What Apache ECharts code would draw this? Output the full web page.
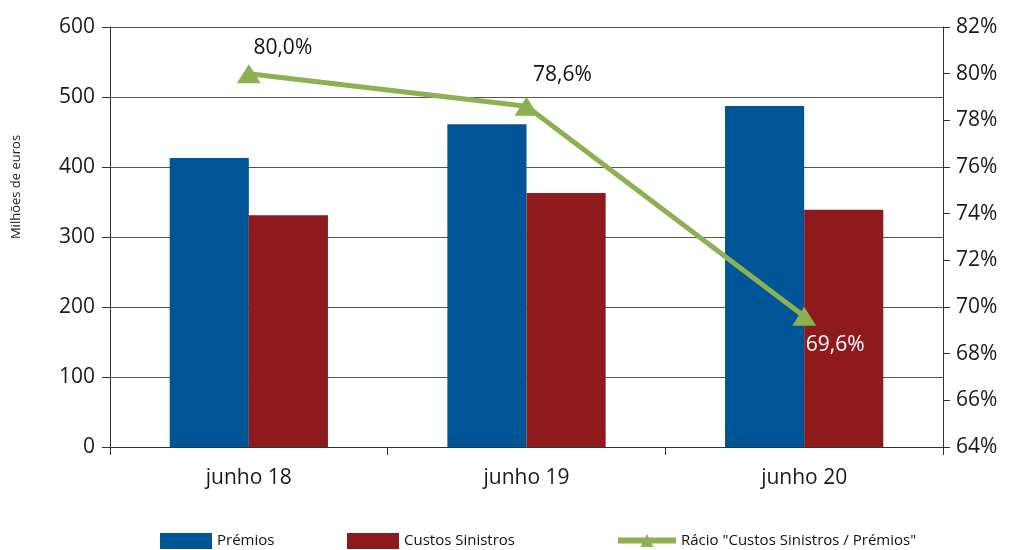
<!DOCTYPE html>
<html><head><meta charset="utf-8">
<script src="https://cdn.jsdelivr.net/npm/echarts@6/dist/echarts.min.js"></script>
<style>html,body{margin:0;padding:0;background:#fff}#c{width:1010px;height:550px}</style>
</head><body><div id="c"></div>
<script>
var categories = ['junho 18', 'junho 19', 'junho 20'];
var premios = [413, 461, 487];
var custos = [331, 363, 339];
var racio = [80.0, 78.6, 69.6];
var racioLabels = ['80,0%', '78,6%', '69,6%'];
var leftTicks = [0, 600, 100];
var rightTicks = [64, 82, 2];

var F = '"Open Sans", "Noto Sans", sans-serif';
var chart = echarts.init(document.getElementById('c'));
var labelOffsets = [[34, -26], [36, -31], [31, 29]];
var labelColors = ['#111', '#111', '#fff'];
chart.setOption({
  animation: false,
  textStyle: { fontFamily: F },
  grid: { left: 110, right: 67, top: 27, bottom: 103 },
  legend: [
    { data: [{ name: 'Prémios', icon: 'rect' }], left: 155, top: 528, itemWidth: 52, itemHeight: 16, itemGap: 6,
      textStyle: { fontSize: 15, color: '#111', fontFamily: F } },
    { data: [{ name: 'Custos Sinistros', icon: 'rect' }], left: 342, top: 528, itemWidth: 52, itemHeight: 16,
      textStyle: { fontSize: 15, color: '#111', fontFamily: F } },
    { data: ['Rácio "Custos Sinistros / Prémios"'], left: 610, top: 528, itemWidth: 58, itemHeight: 16, itemGap: 2,
      lineStyle: { width: 6 },
      textStyle: { fontSize: 15, color: '#111', fontFamily: F } }
  ],
  xAxis: {
    type: 'category', data: categories,
    axisLine: { lineStyle: { color: '#333', width: 1 } },
    axisTick: { show: true, alignWithLabel: false, length: 8, lineStyle: { color: '#333' } },
    axisLabel: { fontSize: 21, color: '#1a1a1a', margin: 21, fontFamily: F }
  },
  yAxis: [
    { type: 'value', min: leftTicks[0], max: leftTicks[1], interval: leftTicks[2],
      name: 'Milhões de euros', nameLocation: 'middle', nameGap: 87, nameRotate: 90,
      nameTextStyle: { fontSize: 13, color: '#222', fontFamily: F, padding: [0, 0, 0, 100] },
      axisLine: { show: true, lineStyle: { color: '#333' } },
      axisTick: { show: true, length: 8, lineStyle: { color: '#333' } },
      axisLabel: { fontSize: 21, color: '#1a1a1a', margin: 15, fontFamily: F },
      splitLine: { show: true, lineStyle: { color: '#555', width: 1 } } },
    { type: 'value', min: rightTicks[0], max: rightTicks[1], interval: rightTicks[2],
      axisLine: { show: true, lineStyle: { color: '#333' } },
      axisTick: { show: true, length: 7, lineStyle: { color: '#333' } },
      axisLabel: { fontSize: 21, color: '#1a1a1a', margin: 13, fontFamily: F, formatter: '{value}%' },
      splitLine: { show: false } }
  ],
  series: [
    { name: 'Prémios', type: 'bar', data: premios, barGap: '0%', barCategoryGap: '43%',
      itemStyle: { color: '#005596' } },
    { name: 'Custos Sinistros', type: 'bar', data: custos,
      itemStyle: { color: '#8e1a1e' } },
    { name: 'Rácio "Custos Sinistros / Prémios"', type: 'line', yAxisIndex: 1,
      data: racio.map(function (v, i) {
        return { value: v, label: { show: true, formatter: racioLabels[i], position: 'inside',
          offset: labelOffsets[i], color: labelColors[i], fontSize: 21, fontFamily: F } };
      }),
      symbol: 'triangle', symbolSize: [24, 19],
      lineStyle: { color: '#8db053', width: 5 },
      itemStyle: { color: '#8db053' } }
  ]
});
</script></body></html>
